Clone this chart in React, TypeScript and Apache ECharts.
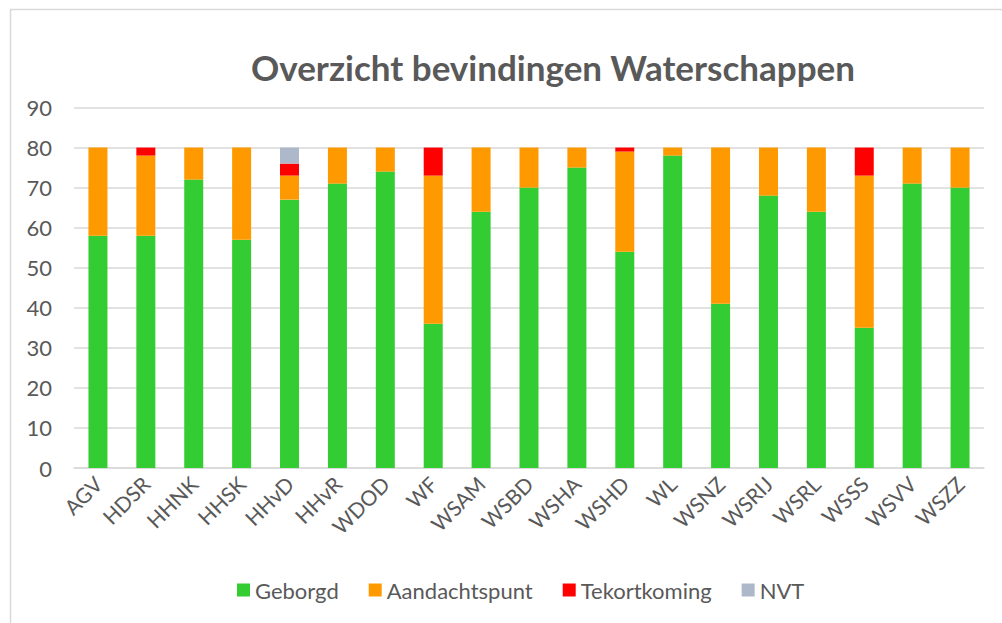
import React, { useEffect, useRef } from "react";
import * as echarts from "echarts";

const categories = ["AGV","HDSR","HHNK","HHSK","HHvD","HHvR","WDOD","WF","WSAM","WSBD","WSHA","WSHD","WL","WSNZ","WSRIJ","WSRL","WSSS","WSVV","WSZZ"];
const geborgd =       [58,58,72,57,67,71,74,36,64,70,75,54,78,41,68,64,35,71,70];
const aandachtspunt = [22,20, 8,23, 6, 9, 6,37,16,10, 5,25, 2,39,12,16,38, 9,10];
const tekortkoming =  [ 0, 2, 0, 0, 3, 0, 0, 7, 0, 0, 0, 1, 0, 0, 0, 0, 7, 0, 0];
const nvt =           [ 0, 0, 0, 0, 4, 0, 0, 0, 0, 0, 0, 0, 0, 0, 0, 0, 0, 0, 0];
const yTicks = [0, 10, 20, 30, 40, 50, 60, 70, 80, 90];

const FONT = "Lato, 'Open Sans', sans-serif";
const TXT = "#595959";

export default function App() {
  const ref = useRef<HTMLDivElement>(null);
  useEffect(() => {
    if (!ref.current) return;
    const chart = echarts.init(ref.current, null, { renderer: "svg" });
    const mk = (name: string, data: number[], color: string) => ({
      name, type: "bar", stack: "s", data, barWidth: 19,
      itemStyle: { color },
      emphasis: { disabled: true },
    });
    chart.setOption({
      animation: false,
      backgroundColor: "#ffffff",
      textStyle: { fontFamily: FONT },
      title: {
        text: "Overzicht bevindingen Waterschappen",
        left: 246, top: 44,
        textStyle: { fontFamily: FONT, fontSize: 35, fontWeight: "bold", color: TXT },
      },
      graphic: [{
        type: "rect", shape: { x: 10.5, y: 9.5, width: 1000, height: 620 },
        style: { fill: "none", stroke: "#d9d9d9", lineWidth: 1.5 }, silent: true,
      }],
      legend: {
        bottom: 17, left: 232, itemWidth: 13, itemHeight: 13, itemGap: 30,
        icon: "rect",
        textStyle: { fontFamily: FONT, fontSize: 22, color: TXT },
        data: ["Geborgd", "Aandachtspunt", "Tekortkoming", "NVT"],
      },
      grid: { left: 74, right: 18, top: 107.5, bottom: 155, containLabel: false },
      xAxis: {
        type: "category", data: categories,
        axisTick: { show: false },
        axisLine: { lineStyle: { color: "#d9d9d9", width: 1.5 } },
        axisLabel: { rotate: 45, fontFamily: FONT, fontSize: 21, color: TXT, margin: 12, interval: 0 },
      },
      yAxis: {
        type: "value", min: yTicks[0], max: yTicks[yTicks.length - 1], interval: 10,
        axisLine: { show: false }, axisTick: { show: false },
        splitLine: { lineStyle: { color: "#d9d9d9", width: 1.5 } },
        axisLabel: { fontFamily: FONT, fontSize: 22, color: TXT, margin: 22 },
      },
      series: [
        mk("Geborgd", geborgd, "#33cc33"),
        mk("Aandachtspunt", aandachtspunt, "#ff9900"),
        mk("Tekortkoming", tekortkoming, "#ff0000"),
        mk("NVT", nvt, "#adb9ca"),
      ],
    });
    return () => chart.dispose();
  }, []);
  return <div ref={ref} style={{ position: "absolute", left: 0, top: 0, width: 1002, height: 623 }} />;
}
